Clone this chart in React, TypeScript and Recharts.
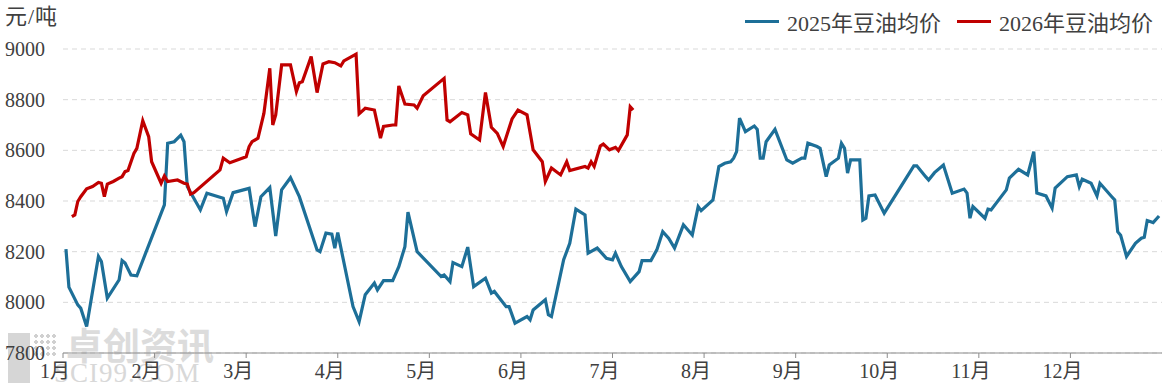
import { LineChart, Line, XAxis, YAxis, CartesianGrid, Legend } from 'recharts'

// 豆油均价 (元/吨), dates as MM-DD
const dates2025 = [
  '01-02', '01-03', '01-06', '01-07', '01-09', '01-13', '01-14', '01-16', '01-20', '01-21', '01-22', '01-24', '01-26',
  '02-04', '02-05', '02-07', '02-09', '02-10', '02-11', '02-13', '02-15', '02-17', '02-21', '02-22', '02-23', '02-25',
  '03-02', '03-04', '03-06', '03-09', '03-11', '03-13', '03-16', '03-19', '03-25', '03-26', '03-28', '03-30', '03-31',
  '04-01', '04-06', '04-08', '04-10', '04-13', '04-14', '04-16', '04-19', '04-21', '04-23', '04-24', '04-27',
  '05-05', '05-06', '05-08', '05-09', '05-12', '05-14', '05-16', '05-20', '05-22', '05-23', '05-27', '05-28', '05-30',
  '06-03', '06-04', '06-05', '06-09', '06-10', '06-11', '06-15', '06-17', '06-19', '06-22', '06-23', '06-26', '06-29',
  '07-01', '07-02', '07-04', '07-07', '07-10', '07-11', '07-14', '07-16', '07-18', '07-20', '07-22', '07-25', '07-28', '07-30', '07-31',
  '08-04', '08-06', '08-08', '08-10', '08-11', '08-12', '08-13', '08-15', '08-18', '08-19', '08-20', '08-21', '08-22', '08-25', '08-29', '08-31',
  '09-03', '09-04', '09-05', '09-08', '09-09', '09-11', '09-12', '09-15', '09-16', '09-17', '09-18', '09-19', '09-22', '09-23', '09-24', '09-25', '09-27', '09-30',
  '10-10', '10-11', '10-14', '10-15', '10-17', '10-20', '10-23', '10-27', '10-28', '10-29', '10-30',
  '11-03', '11-04', '11-05', '11-10', '11-11', '11-14', '11-17', '11-19', '11-20', '11-23', '11-25', '11-26', '11-30',
  '12-03', '12-04', '12-05', '12-08', '12-10', '12-11', '12-15', '12-16', '12-17', '12-18', '12-20', '12-23', '12-25', '12-26', '12-27', '12-29', '12-31',
]

const prices2025 = [
  8210, 8060, 7990, 7977, 7905, 8181, 8161, 8017, 8089, 8165, 8155, 8108, 8105,
  8385, 8628, 8634, 8660, 8634, 8457, 8411, 8365, 8431, 8415, 8411, 8358, 8433,
  8450, 8299, 8417, 8453, 8262, 8444, 8492, 8417, 8207, 8200, 8273, 8269, 8214,
  8275, 7983, 7924, 8030, 8076, 8049, 8086, 8086, 8141, 8220, 8356, 8200,
  8102, 8108, 8082, 8157, 8141, 8218, 8062, 8095, 8036, 8043, 7983, 7983, 7918,
  7944, 7931, 7970, 8010, 7951, 7944, 8168, 8233, 8368, 8345, 8194, 8214, 8174,
  8168, 8194, 8141, 8082, 8121, 8165, 8165, 8207, 8279, 8253, 8214, 8306, 8266, 8378, 8362,
  8404, 8536, 8549, 8555, 8569, 8595, 8727, 8674, 8696, 8683, 8569, 8569, 8634, 8683, 8562, 8549,
  8569, 8569, 8628, 8615, 8608, 8496, 8542, 8569, 8628, 8608, 8510, 8562, 8562, 8325, 8332, 8420, 8424, 8352,
  8539, 8539, 8496, 8483, 8512, 8542, 8431, 8447, 8431, 8332, 8378,
  8332, 8368, 8365, 8444, 8490, 8525, 8503, 8595, 8431, 8420, 8372, 8451, 8496,
  8503, 8457, 8486, 8470, 8420, 8470, 8417, 8404, 8279, 8265, 8181, 8233, 8253, 8257, 8323, 8315, 8341,
]

const dates2026 = [
  '01-04', '01-05', '01-06', '01-07', '01-09', '01-11', '01-13', '01-14', '01-15', '01-16', '01-18', '01-20', '01-21', '01-22', '01-23', '01-25', '01-26', '01-28', '01-30', '01-31',
  '02-03', '02-04', '02-05', '02-08', '02-10', '02-11', '02-12', '02-13', '02-21', '02-22', '02-24',
  '03-01', '03-02', '03-03', '03-05', '03-07', '03-09', '03-10', '03-11', '03-13', '03-16', '03-18', '03-19', '03-20', '03-23', '03-25', '03-27', '03-29', '03-31',
  '04-02', '04-03', '04-07', '04-08', '04-10', '04-13', '04-15', '04-16', '04-19', '04-20', '04-21', '04-23', '04-26', '04-27', '04-29',
  '05-06', '05-07', '05-08', '05-12', '05-14', '05-15', '05-18', '05-20', '05-22', '05-24', '05-26', '05-29', '05-31',
  '06-03', '06-05', '06-08', '06-09', '06-11', '06-14', '06-16', '06-17', '06-22', '06-23', '06-24', '06-25', '06-27', '06-28', '06-30',
  '07-02', '07-03', '07-06', '07-07', '07-08',
]

const prices2026 = [
  8338, 8345, 8398, 8417, 8448, 8457, 8473, 8470, 8417, 8467, 8477, 8490, 8496, 8516, 8520, 8588, 8608, 8717, 8654, 8555,
  8470, 8499, 8477, 8483, 8470, 8467, 8427, 8433, 8523, 8569, 8551,
  8575, 8615, 8634, 8648, 8746, 8924, 8700, 8740, 8937, 8937, 8832, 8867, 8871, 8970, 8828, 8941, 8950, 8946,
  8933, 8953, 8980, 8744, 8766, 8759, 8648, 8694, 8700, 8700, 8854, 8783, 8779, 8766, 8815,
  8884, 8720, 8713, 8749, 8740, 8665, 8641, 8828, 8691, 8667, 8615, 8724, 8759,
  8740, 8602, 8555, 8477, 8530, 8503, 8555, 8520, 8536, 8530, 8555, 8536, 8617, 8625, 8602,
  8612, 8599, 8661, 8772, 8759,
]

const monthTicks = [0, 1, 2, 3, 4, 5, 6, 7, 8, 9, 10, 11]
const priceTicks = [7800, 8000, 8200, 8400, 8600, 8800, 9000]

const DAYS = [31, 28, 31, 30, 31, 30, 31, 31, 30, 31, 30, 31]

// each month gets one unit on the x axis
const toX = (md: string) => {
  const [m, d] = md.split('-').map(Number)
  return m - 1 + (d - 1) / DAYS[m - 1]
}

const series2025 = dates2025.map((d, i) => ({ x: toX(d), v: prices2025[i] }))
const series2026 = dates2026.map((d, i) => ({ x: toX(d), v: prices2026[i] }))

const BLUE = '#1d6f98'
const RED = '#c00000'
const FONT = '"Liberation Serif", "Noto Sans CJK SC", serif'
const TEXT = '#404040'

const MonthTick = ({ x, y, payload }: any) => (
  <text x={x - 8} y={y} dy="0.71em" textAnchor="middle" fill={TEXT} fontSize={20} fontFamily={FONT}>
    {`${payload.value + 1}月`}
  </text>
)

const LegendContent = () => {
  const items = [
    { label: '2025年豆油均价', color: BLUE },
    { label: '2026年豆油均价', color: RED },
  ]
  return (
    <div style={{ display: 'flex', alignItems: 'center', fontFamily: FONT, fontSize: 22, color: TEXT }}>
      {items.map((item, i) => (
        <div key={i} style={{ display: 'flex', alignItems: 'center', marginLeft: i ? 16 : 0 }}>
          <span style={{ width: 34, height: 3, background: item.color, marginRight: 8 }} />
          <span>{item.label}</span>
        </div>
      ))}
    </div>
  )
}

export default function App() {
  return (
    <div style={{ position: 'absolute', left: 0, top: 0, width: 1170, height: 389, background: '#fff', overflow: 'hidden' }}>
      {/* watermark */}
      <div style={{ position: 'absolute', left: 8, top: 333, width: 22, height: 50, background: '#d6d6d6' }} />
      <div
        style={{
          position: 'absolute',
          left: 33,
          top: 333,
          width: 24,
          height: 24,
          backgroundImage: 'radial-gradient(#d0d0d0 45%, transparent 50%)',
          backgroundSize: '6px 6px',
        }}
      />
      <div style={{ position: 'absolute', left: 66, top: 326, fontSize: 37, fontWeight: 700, color: '#dcdcdc', fontFamily: '"Noto Sans CJK SC", sans-serif', lineHeight: 1 }}>
        卓创资讯
      </div>
      <div style={{ position: 'absolute', left: 54, top: 360, fontSize: 27, color: '#d8d8d8', fontFamily: '"Liberation Serif", serif', lineHeight: 1, letterSpacing: 1 }}>
        SCI99.COM
      </div>
      <div style={{ position: 'absolute', left: 5, top: 6, fontSize: 22, color: TEXT, fontFamily: FONT, lineHeight: 1, letterSpacing: 1 }}>
        元/吨
      </div>
      <div style={{ position: 'absolute', left: 0, top: 0 }}>
        <LineChart width={1170} height={389} margin={{ top: 49, right: 8, bottom: 6, left: 8 }}>
          <CartesianGrid vertical={false} stroke="#d9d9d9" strokeDasharray="5 4" />
          <XAxis
            type="number"
            dataKey="x"
            domain={[0, 12]}
            ticks={monthTicks}
            allowDataOverflow
            tick={<MonthTick />}
            tickSize={5}
            tickMargin={6}
            height={30}
            axisLine={{ stroke: '#8c8c8c' }}
            tickLine={{ stroke: '#8c8c8c' }}
          />
          <YAxis
            type="number"
            domain={[7800, 9000]}
            ticks={priceTicks}
            width={55}
            axisLine={false}
            tickLine={false}
            tickSize={0}
            tickMargin={18}
            tick={{ fill: TEXT, fontSize: 20, fontFamily: FONT }}
          />
          <Legend
            verticalAlign="middle"
            align="center"
            layout="horizontal"
            content={<LegendContent />}
            wrapperStyle={{ top: 5, right: 17, left: 'auto', bottom: 'auto', width: 'auto', height: 'auto' }}
          />
          <Line
            data={series2025}
            dataKey="v"
            name="2025年豆油均价"
            stroke={BLUE}
            strokeWidth={3.2}
            dot={false}
            isAnimationActive={false}
          />
          <Line
            data={series2026}
            dataKey="v"
            name="2026年豆油均价"
            stroke={RED}
            strokeWidth={3.2}
            dot={false}
            isAnimationActive={false}
          />
        </LineChart>
      </div>
    </div>
  )
}
